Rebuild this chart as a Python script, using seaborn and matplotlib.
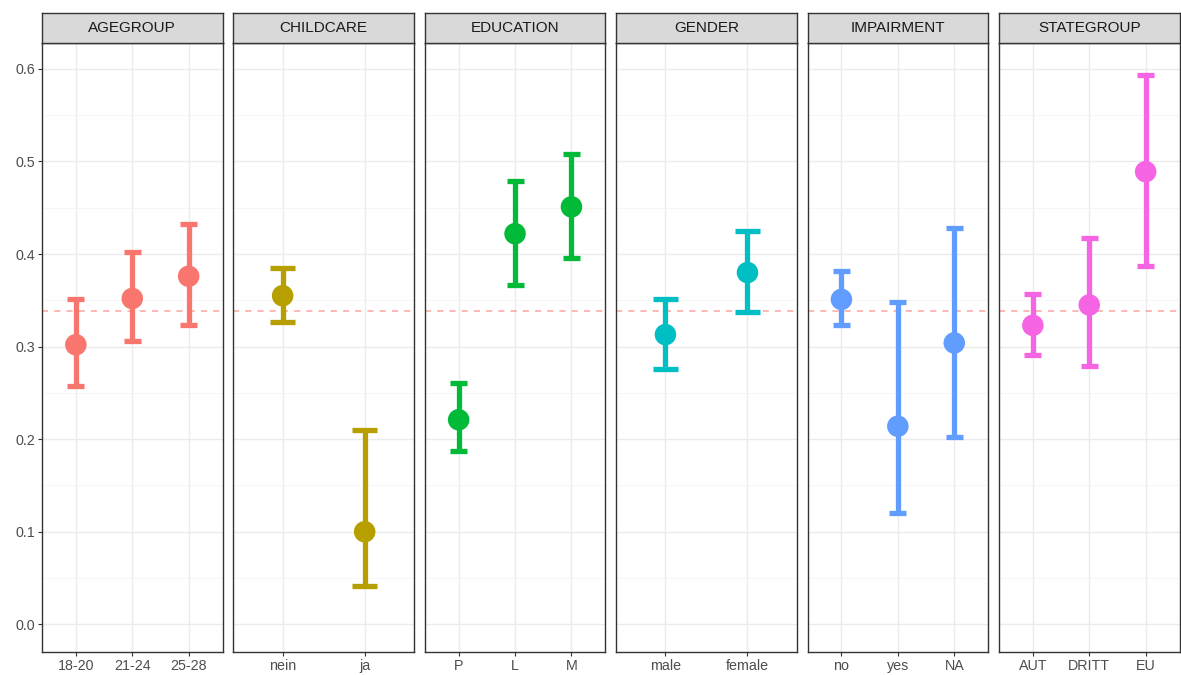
import numpy as np
import pandas as pd
import matplotlib
matplotlib.use("Agg")
import matplotlib.pyplot as plt
import seaborn as sns
from matplotlib.ticker import MultipleLocator

facets = ["AGEGROUP", "CHILDCARE", "EDUCATION", "GENDER", "IMPAIRMENT", "STATEGROUP"]
levels = [["18-20", "21-24", "25-28"], ["nein", "ja"], ["P", "L", "M"],
          ["male", "female"], ["no", "yes", "NA"], ["AUT", "DRITT", "EU"]]
est = [[0.302, 0.352, 0.376], [0.355, 0.100], [0.221, 0.422, 0.451],
       [0.313, 0.380], [0.351, 0.214, 0.304], [0.323, 0.345, 0.489]]
lower = [[0.257, 0.306, 0.323], [0.327, 0.041], [0.187, 0.367, 0.396],
         [0.276, 0.337], [0.323, 0.120, 0.202], [0.291, 0.279, 0.387]]
upper = [[0.351, 0.402, 0.433], [0.385, 0.210], [0.261, 0.479, 0.508],
         [0.351, 0.425], [0.382, 0.348, 0.428], [0.357, 0.417, 0.593]]
overall = 0.339
colors = ["#F8766D", "#B79F00", "#00BA38", "#00BFC4", "#619CFF", "#F564E3"]
yticks = [0.0, 0.1, 0.2, 0.3, 0.4, 0.5, 0.6]

sns.set_theme(style="white")
plt.rcParams["font.family"] = ["Liberation Sans", "DejaVu Sans"]

W, H = 1181, 675
fig = plt.figure(figsize=(W / 100, H / 100), dpi=100)

left0, pw, step = 42, 180.5, 191.4
ptop, pbot = 43, 652
stop = 13
ymin, ymax = -0.0299, 0.628

for i, fac in enumerate(facets):
    x0 = left0 + i * step
    ax = fig.add_axes([x0 / W, (H - pbot) / H, pw / W, (pbot - ptop) / H])
    n = len(levels[i])
    df = pd.DataFrame({"level": levels[i], "est": est[i], "lo": lower[i], "hi": upper[i]})
    xs = np.arange(n)
    ax.yaxis.set_major_locator(MultipleLocator(0.1))
    ax.yaxis.set_minor_locator(MultipleLocator(0.05))
    ax.grid(which="major", color="#EBEBEB", linewidth=1.0)
    ax.grid(which="minor", axis="y", color="#F5F5F5", linewidth=0.6)
    ax.set_axisbelow(True)
    ax.axhline(overall, color="#F8766D", alpha=0.65, linestyle=(0, (4, 4)), linewidth=1.1, zorder=1)
    c = colors[i]
    ax.vlines(xs, df["lo"], df["hi"], color=c, linewidth=3.8, zorder=2)
    cw = 0.15
    ax.hlines(df["lo"], xs - cw, xs + cw, color=c, linewidth=3.8, zorder=2)
    ax.hlines(df["hi"], xs - cw, xs + cw, color=c, linewidth=3.8, zorder=2)
    sns.scatterplot(x=xs, y=df["est"].values, ax=ax, color=c, s=240, edgecolor="none",
                    linewidth=0, zorder=3, legend=False)
    ax.set_xticks(xs)
    ax.set_xticklabels(levels[i])
    ax.set_xlim(-0.6, n - 0.4)
    ax.set_ylim(ymin, ymax)
    ax.tick_params(axis="x", length=3, width=0.8, color="#333333", labelsize=10.3, labelcolor="#4D4D4D",
                   pad=2, bottom=True)
    if i == 0:
        ax.set_yticks(yticks)
        ax.set_yticklabels([f"{v:.1f}" for v in yticks])
        ax.tick_params(axis="y", length=3, width=0.8, color="#333333", labelsize=10.3, labelcolor="#4D4D4D",
                       pad=2, left=True)
    else:
        ax.tick_params(axis="y", left=False, labelleft=False)
    ax.set_xlabel("")
    ax.set_ylabel("")
    for sp in ax.spines.values():
        sp.set_color("#333333")
        sp.set_linewidth(1.0)
    sax = fig.add_axes([x0 / W, (H - ptop) / H, pw / W, (ptop - stop) / H])
    sax.set_facecolor("#D9D9D9")
    sax.set_xticks([])
    sax.set_yticks([])
    for sp in sax.spines.values():
        sp.set_color("#333333")
        sp.set_linewidth(1.0)
    sax.text(0.5, 0.5, fac, ha="center", va="center", fontsize=11, color="#1A1A1A",
             transform=sax.transAxes)

fig.savefig("out.png", dpi=100)
